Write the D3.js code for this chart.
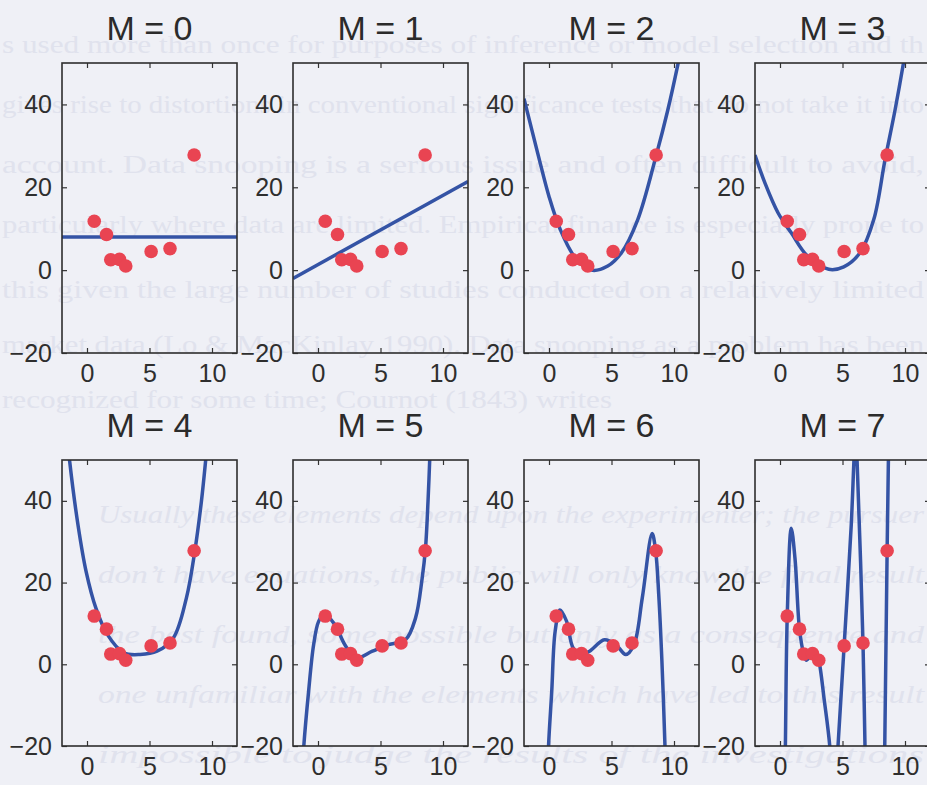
<!DOCTYPE html>
<html>
<head>
<meta charset="utf-8">
<script src="https://cdn.jsdelivr.net/npm/d3@7"></script>
<style>
  body { margin: 0; background: #eff0f6; }
  svg { display: block; }
</style>
</head>
<body>
<svg width="927" height="785"></svg>
<script>
// data points (same in every panel)
const ptX = [0.58, 1.56, 1.9, 2.6, 3.1, 5.13, 6.64, 8.57];
const ptY = [11.8, 8.6, 2.5, 2.6, 1.0, 4.5, 5.2, 27.8];

const orders = [0, 1, 2, 3, 4, 5, 6, 7];
const xTicks = [0, 5, 10];
const yTicks = [-20, 0, 20, 40];

// fitted curves as [x, y]
const fitM0 = [[-2, 8], [12, 8]];
const fitM1 = [[-2, -2], [12, 21.4]];
const fitM2 = [[-2, 41.4], [-0.9, 28.2], [0, 17.8], [0.9, 9.8], [2.1, 3.0], [3.4, 0], [4.7, 1.0], [5.8, 4.2],
               [7.1, 12.2], [8.55, 27.4], [9.5, 38.6], [10.3, 49.5], [10.8, 57]];
const fitM3 = [[-2, 27.8], [-1.2, 21.0], [-0.15, 13.8], [0.9, 9.0], [2.2, 3.4], [3.9, 0.2], [5.1, 0.8], [6.4, 4.2],
               [7.5, 12.2], [8.4, 26.6], [9.2, 38.6], [9.85, 49.5], [10.3, 58]];
const fitM4 = [[-1.65, 58], [-1.38, 49.5], [-0.72, 34.1], [-0.07, 22.7], [0.72, 13.7], [1.65, 7.2], [2.95, 2.8],
               [4.25, 2.4], [5.6, 3.2], [6.9, 6.4], [7.95, 16.2], [8.62, 27.6], [9.15, 39.8], [9.48, 49.5], [9.7, 57]];
const fitM5 = [[-1.35, -32], [-1.14, -20.2], [-0.75, -6.6], [-0.35, 4.8], [0.05, 10.5], [0.5, 12.3], [1.35, 9.7],
               [2.15, 4.8], [3.05, 1.5], [4.35, 3.2], [5.65, 4.8], [7.0, 6.0], [7.8, 11.3], [8.33, 21], [8.6, 28.4],
               [8.8, 39.8], [8.93, 49.5], [9.05, 60]];
const fitM6 = [[-0.15, -32], [-0.04, -20.2], [0.22, -6.6], [0.49, 8.0], [0.88, 13.3], [1.41, 10.5], [1.93, 4.0],
               [2.59, 2.4], [3.25, 3.2], [4.43, 6.0], [5.35, 4.8], [6.14, 2.4], [6.8, 4.8], [7.46, 16.2], [8.25, 32],
               [8.53, 27.8], [8.78, 17], [9.03, 1], [9.28, -20.2], [9.38, -32]];
const fitM7 = [[0.3, -45], [0.43, -20], [0.58, 11.8], [0.9, 33.3], [1.2, 25.9], [1.56, 8.6], [1.9, 2.5], [2.1, 1.0],
               [2.6, 2.6], [2.9, 2.5], [3.1, 1.0], [3.55, -9], [3.98, -20], [4.31, -38], [4.64, -20], [5.13, 4.5],
               [5.7, 34.1], [5.91, 49.5], [6.04, 58], [6.17, 49.5], [6.64, 5.2], [6.8, -20], [7.6, -110],
               [8.38, -20], [8.57, 27.8], [8.67, 49.5], [8.75, 65]];
const fits = [fitM0, fitM1, fitM2, fitM3, fitM4, fitM5, fitM6, fitM7];

// faint text of the page showing through
const bgLines = [
  's used more than once for purposes of inference or model selection and th',
  'gives rise to distortions in conventional significance tests that do not take it into',
  'account.   Data snooping is a serious issue and often difficult to avoid,',
  'particularly where data are limited.   Empirical finance is especially prone to',
  'this given the large number of studies conducted on a relatively limited',
  'market data (Lo & MacKinlay 1990).  Data snooping as a problem has been',
  'recognized for some time; Cournot (1843) writes',
  'Usually these elements depend upon the experimenter; the pursuer',
  'don\u2019t have equations, the public will only know the final result',
  'the best found, some possible but only as a consequence and',
  'one unfamiliar with the elements which have led to this result',
  'impossible to judge the results of the investigations'
];
const bgY = [53, 113, 173, 233, 298, 353, 408, 523, 583, 643, 703, 763];

const svg = d3.select('svg');
const width = +svg.attr('width');
const height = +svg.attr('height');

svg.append('rect').attr('width', width).attr('height', height).attr('fill', '#eff0f6');

const bg = svg.append('g')
    .attr('font-family', "'Liberation Serif', 'DejaVu Serif', serif")
    .attr('font-size', 26)
    .attr('fill', '#e0e2ed');
bg.selectAll('text').data(bgLines).enter().append('text')
    .attr('x', (d, i) => i < 7 ? 2 : 98)
    .attr('y', (d, i) => bgY[i])
    .attr('font-style', (d, i) => i < 7 ? 'normal' : 'italic')
    .attr('textLength', (d, i) => i === 6 ? 610 : (i < 7 ? 922 : 826))
    .attr('lengthAdjust', 'spacingAndGlyphs')
    .text(d => d);

const panelW = 175;
const colStep = 231;
const rowTop = [63, 460];
const rowBottom = [353, 746];
const titleY = [40, 437];

const line = d3.line().curve(d3.curveCatmullRom.alpha(0.5));

orders.forEach((m, i) => {
    const col = i % 4, row = Math.floor(i / 4);
    const left = 62 + col * colStep;
    const top = rowTop[row], bottom = rowBottom[row];

    const x = d3.scaleLinear().domain([-2, 12]).range([left, left + panelW]);
    const y = d3.scaleLinear().domain([-20, 50]).range([bottom, top]);

    const g = svg.append('g');

    svg.append('clipPath').attr('id', 'clip' + i)
        .append('rect').attr('x', left).attr('y', top).attr('width', panelW).attr('height', bottom - top);

    // axes with inward ticks on all four sides
    const axL = g.append('g').attr('transform', `translate(${left},0)`)
        .call(d3.axisLeft(y).tickValues(yTicks).tickSize(-5).tickPadding(10));
    const axB = g.append('g').attr('transform', `translate(0,${bottom})`)
        .call(d3.axisBottom(x).tickValues(xTicks).tickSize(-5).tickPadding(11));
    g.append('g').attr('transform', `translate(${left + panelW},0)`)
        .call(d3.axisRight(y).tickValues(yTicks).tickSize(-5).tickFormat(''));
    g.append('g').attr('transform', `translate(0,${top})`)
        .call(d3.axisTop(x).tickValues(xTicks).tickSize(-5).tickFormat(''));

    g.selectAll('.domain').remove();
    g.selectAll('.tick line').attr('stroke', '#333').attr('stroke-width', 1.2);
    [axL, axB].forEach(a => a.selectAll('text')
        .attr('font-family', "'Liberation Sans', Arial, sans-serif")
        .attr('font-size', 25)
        .attr('fill', '#2e2e2e'));

    // fitted curve
    g.append('path')
        .datum(fits[i])
        .attr('clip-path', `url(#clip${i})`)
        .attr('fill', 'none')
        .attr('stroke', '#3453a5')
        .attr('stroke-width', 3.5)
        .attr('stroke-linejoin', 'round')
        .attr('d', line.x(d => x(d[0])).y(d => y(d[1])));

    // data points
    g.selectAll('circle')
        .data(ptX)
        .enter()
        .append('circle')
        .attr('cx', d => x(d))
        .attr('cy', (d, j) => y(ptY[j]))
        .attr('r', 6.8)
        .attr('fill', '#e94452');

    // box
    g.append('rect')
        .attr('x', left).attr('y', top)
        .attr('width', panelW).attr('height', bottom - top)
        .attr('fill', 'none').attr('stroke', '#2e2e2e').attr('stroke-width', 1.6);

    g.append('text')
        .text(`M = ${m}`)
        .attr('x', left + panelW / 2)
        .attr('y', titleY[row])
        .attr('text-anchor', 'middle')
        .attr('font-family', "'Liberation Sans', Arial, sans-serif")
        .attr('font-size', 34)
        .attr('fill', '#2b2b2b');
});
</script>
</body>
</html>
